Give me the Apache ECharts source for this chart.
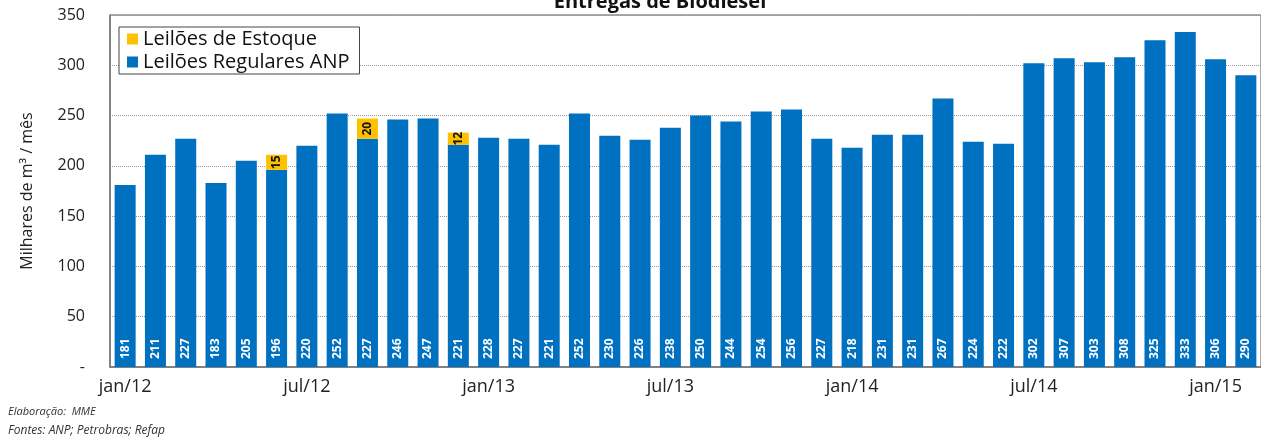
<!DOCTYPE html>
<html>
<head>
<meta charset="utf-8">
<script src="https://cdn.jsdelivr.net/npm/echarts@6/dist/echarts.min.js"></script>
<style>
  html, body { margin: 0; padding: 0; background: #fff; }
  #chart { width: 1261px; height: 443px; }
</style>
</head>
<body>
<div id="chart"></div>
<script>
// meses jan/12 .. fev/15
const months = [
  "jan/12", "fev/12", "mar/12", "abr/12", "mai/12", "jun/12", "jul/12", "ago/12", "set/12", "out/12", "nov/12", "dez/12",
  "jan/13", "fev/13", "mar/13", "abr/13", "mai/13", "jun/13", "jul/13", "ago/13", "set/13", "out/13", "nov/13", "dez/13",
  "jan/14", "fev/14", "mar/14", "abr/14", "mai/14", "jun/14", "jul/14", "ago/14", "set/14", "out/14", "nov/14", "dez/14",
  "jan/15", "fev/15"
];
const regulares = [
  181, 211, 227, 183, 205, 196, 220, 252, 227, 246, 247, 221,
  228, 227, 221, 252, 230, 226, 238, 250, 244, 254, 256, 227,
  218, 231, 231, 267, 224, 222, 302, 307, 303, 308, 325, 333,
  306, 290
];
const estoque = [
  null, null, null, null, null, 15, null, null, 20, null, null, 12,
  null, null, null, null, null, null, null, null, null, null, null, null,
  null, null, null, null, null, null, null, null, null, null, null, null,
  null, null
];
const yTicks = [0, 50, 100, 150, 200, 250, 300, 350];

const chart = echarts.init(document.getElementById("chart"));
const font = "'Open Sans', 'Noto Sans', sans-serif";

const option = {
  animation: false,
  textStyle: { fontFamily: font },
  title: {
    text: "Entregas de Biodiesel",
    left: 655,
    textAlign: "center",
    top: -13,
    textStyle: { fontSize: 20, fontWeight: "bold", color: "#111", fontFamily: font },
  },
  legend: {
    orient: "vertical",
    left: 119,
    top: 27,
    itemWidth: 11,
    itemHeight: 11,
    itemGap: 3,
    padding: [2, 10, 2, 8],
    backgroundColor: "#fff",
    borderColor: "#444",
    borderWidth: 1,
    textStyle: { fontSize: 20, color: "#111", fontFamily: font },
    data: [
      { name: "Leilões de Estoque", icon: "rect" },
      { name: "Leilões Regulares ANP", icon: "rect" },
    ],
  },
  grid: {
    left: 110,
    top: 15,
    width: 1159,
    bottom: 76,
    show: true,
    borderColor: "#555",
    borderWidth: 1,
  },
  xAxis: {
    type: "category",
    data: months,
    axisLine: { lineStyle: { color: "#777", width: 1.5 } },
    axisTick: { interval: 5, length: 6, lineStyle: { color: "#777" } },
    axisLabel: {
      interval: 5,
      fontSize: 18,
      color: "#222",
      margin: 11,
    },
  },
  yAxis: {
    type: "value",
    min: 0,
    max: 350,
    interval: 50,
    name: "Milhares de m³ / mês",
    nameLocation: "middle",
    nameGap: 75,
    nameTextStyle: { fontSize: 16, color: "#222", fontFamily: font },
    axisLine: { show: true, lineStyle: { color: "#777", width: 1.5 } },
    axisLabel: {
      fontSize: 16,
      color: "#222",
      margin: 25,
      formatter: (v) => (v === yTicks[0] ? "-" : String(v)),
    },
    splitLine: { lineStyle: { type: "dotted", color: "#999" } },
  },
  series: [
    {
      name: "Leilões Regulares ANP",
      type: "bar",
      stack: "total",
      barWidth: 21,
      data: regulares,
      itemStyle: { color: "#0070C0" },
      label: {
        show: true,
        position: "insideBottom",
        rotate: 90,
        align: "left",
        verticalAlign: "middle",
        distance: 8,
        color: "#fff",
        fontSize: 12,
        fontWeight: "bold",
        fontFamily: font,
      },
    },
    {
      name: "Leilões de Estoque",
      type: "bar",
      stack: "total",
      barWidth: 21,
      data: estoque,
      itemStyle: { color: "#FFC000" },
      label: {
        show: true,
        position: "inside",
        rotate: 90,
        color: "#111",
        fontSize: 12,
        fontWeight: "bold",
        fontFamily: font,
      },
    },
  ],
  graphic: [
    {
      type: "text",
      left: 8,
      top: 406,
      style: { text: "Elaboração:  MME", fontSize: 11, fontStyle: "italic", fill: "#333", fontFamily: font },
    },
    {
      type: "text",
      left: 8,
      top: 425,
      style: { text: "Fontes: ANP; Petrobras; Refap", fontSize: 12, fontStyle: "italic", fill: "#333", fontFamily: font },
    },
  ],
};

chart.setOption(option);
</script>
</body>
</html>
